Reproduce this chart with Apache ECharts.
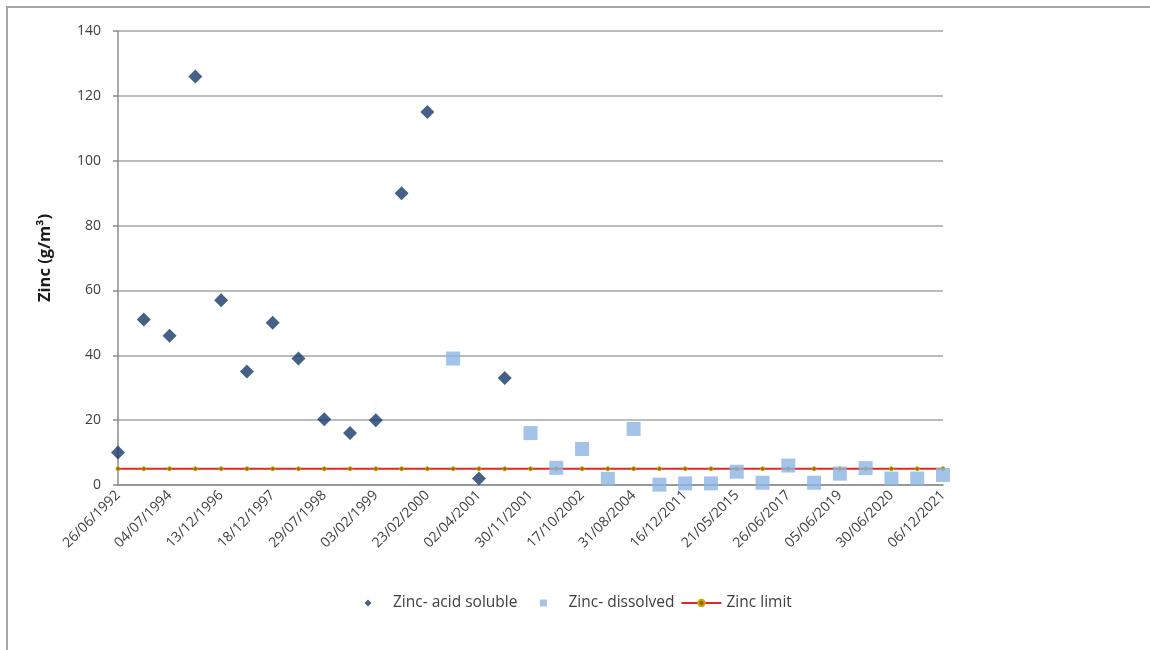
<!DOCTYPE html>
<html>
<head>
<meta charset="utf-8">
<script src="https://cdn.jsdelivr.net/npm/echarts@6/dist/echarts.min.js"></script>
<style>
html,body{margin:0;padding:0;background:#fff;}
#chart{width:1150px;height:650px;}
</style>
</head>
<body>
<div id="chart"></div>
<script>
// Sampling dates (every other label is hidden in the reference; those are estimates)
var dates = [
  '26/06/1992','15/06/1993','04/07/1994','20/06/1995','13/12/1996','10/06/1997',
  '18/12/1997','15/04/1998','29/07/1998','20/10/1998','03/02/1999','25/08/1999',
  '23/02/2000','20/09/2000','02/04/2001','10/08/2001','30/11/2001','15/05/2002',
  '17/10/2002','20/06/2003','31/08/2004','15/06/2008','16/12/2011','20/06/2013',
  '21/05/2015','10/06/2016','26/06/2017','20/06/2018','05/06/2019','10/12/2019',
  '30/06/2020','15/12/2020','06/12/2021'
];
var acidSoluble = [10, 51, 46, 126, 57, 35, 50, 39, 20.3, 16, 20, 90, 115, null, 2, 33,
  null, null, null, null, null, null, null, null, null, null, null, null, null, null, null, null, null];
var dissolved = [null, null, null, null, null, null, null, null, null, null, null, null, null, 39, null, null,
  16, 5.3, 11.1, 1.9, 17.3, 0.1, 0.5, 0.5, 4.1, 0.7, 6.0, 0.7, 3.5, 5.2, 2.0, 2.0, 3.1];
var zincLimit = [5,5,5,5,5,5,5,5,5,5,5,5,5,5,5,5,5,5,5,5,5,5,5,5,5,5,5,5,5,5,5,5,5];
var seriesNames = ['Zinc- acid soluble', 'Zinc- dissolved', 'Zinc limit'];
var yAxisName = 'Zinc (g/m³)';

// legend icons: small symbol centred in a 40x8 box (invisible moveTo points fix the box)
var legendDiamond = 'path://M0,0M40,8M20,0.5L23.5,4L20,7.5L16.5,4Z';
var legendSquare = 'path://M0,0M40,8M16.5,0.5L23.5,0.5L23.5,7.5L16.5,7.5Z';

var chart = echarts.init(document.getElementById('chart'), null, {renderer: 'canvas'});
var font = '"Open Sans", "Noto Sans", sans-serif';
chart.setOption({
  backgroundColor: '#ffffff',
  animation: false,
  textStyle: {fontFamily: font},
  graphic: [{
    type: 'polyline',
    shape: {points: [[7, 650], [7, 7], [1150, 7]]},
    style: {stroke: '#a6a6a6', lineWidth: 2, fill: null},
    silent: true
  }],
  grid: {left: 118, right: 207, top: 31, bottom: 165, containLabel: false},
  legend: {
    left: 343, top: 590,
    itemWidth: 40, itemHeight: 8, itemGap: 6,
    textStyle: {fontSize: 15.5, color: '#404040', fontFamily: font},
    data: [
      {name: seriesNames[0], icon: legendDiamond},
      {name: seriesNames[1], icon: legendSquare},
      {name: seriesNames[2]}
    ]
  },
  xAxis: {
    type: 'category',
    data: dates,
    boundaryGap: false,
    axisLine: {show: true, lineStyle: {color: '#8c8c8c', width: 1.5}},
    axisTick: {show: false},
    axisLabel: {interval: 1, rotate: 45, fontSize: 14, color: '#404040', margin: 8, fontFamily: font},
    splitLine: {show: false}
  },
  yAxis: {
    type: 'value',
    min: 0, max: 140, interval: 20,
    name: yAxisName,
    nameLocation: 'middle',
    nameGap: 64,
    nameTextStyle: {fontSize: 16.5, fontWeight: 'bold', color: '#1a1a1a', fontFamily: font},
    axisLine: {show: true, lineStyle: {color: '#8c8c8c', width: 1.5}},
    axisTick: {show: true, length: 5, lineStyle: {color: '#8c8c8c', width: 1.5}},
    axisLabel: {fontSize: 14, color: '#404040', margin: 17, fontFamily: font},
    splitLine: {show: true, lineStyle: {color: '#a6a6a6', width: 1.5}}
  },
  series: [
    {
      name: seriesNames[0], type: 'scatter', data: acidSoluble,
      symbol: 'diamond', symbolSize: 14,
      itemStyle: {color: '#163a6a'}, z: 4
    },
    {
      name: seriesNames[1], type: 'scatter', data: dissolved,
      symbol: 'rect', symbolSize: 14,
      itemStyle: {color: '#8db4e2'}, z: 3
    },
    {
      name: seriesNames[2], type: 'line', data: zincLimit,
      symbol: 'circle', symbolSize: 4, showSymbol: true,
      lineStyle: {color: '#e0282a', width: 2},
      itemStyle: {color: '#8a7000', borderColor: '#c9a800', borderWidth: 1}, z: 2
    }
  ]
});
</script>
</body>
</html>
